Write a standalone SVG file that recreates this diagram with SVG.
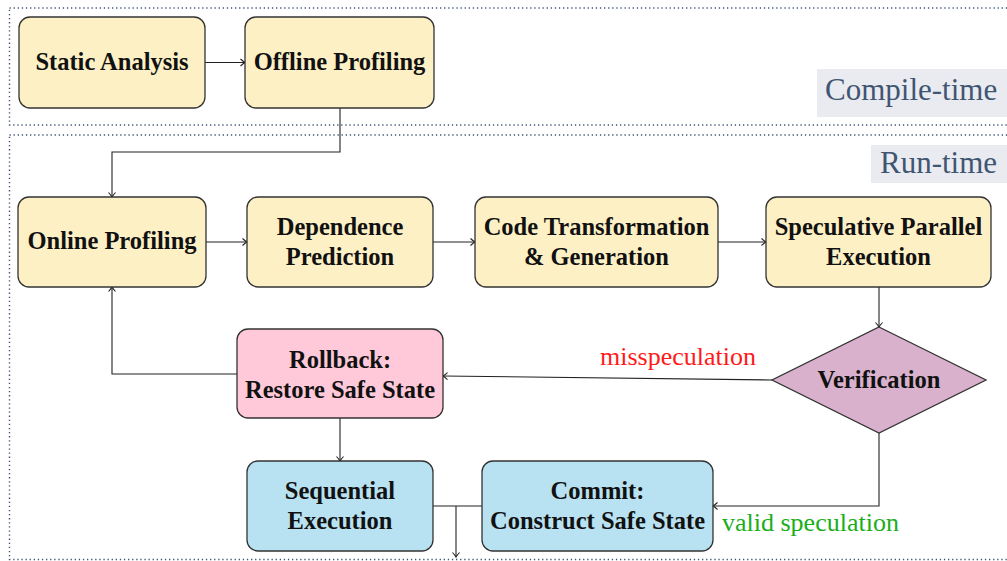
<svg xmlns="http://www.w3.org/2000/svg" width="1007" height="561" viewBox="0 0 1007 561">
<defs>
<marker id="arr" markerUnits="userSpaceOnUse" markerWidth="12" markerHeight="12" viewBox="-6 -6 12 12" refX="0" refY="0" orient="auto">
<path d="M-4.5,-3.5 Q-1.5,-0.8 0,0 Q-1.5,0.8 -4.5,3.5" fill="none" stroke="#222" stroke-width="1.1"/>
</marker>
<style>
.region{fill:none;stroke:#3f5573;stroke-width:1.4;stroke-dasharray:1.3 2.8}
.tagbg{fill:#e9ebf0}
.tag{font-family:"Liberation Serif",serif;font-size:31px;fill:#3f5572}
.box{stroke:#333;stroke-width:1.3}
.y{fill:#fdf0c5}
.p{fill:#ffc9d9}
.b{fill:#b8e2f2}
.d{fill:#d9b1cc}
.lbl{font-family:"Liberation Serif",serif;font-weight:bold;font-size:24.5px;fill:#111;text-anchor:middle}
.edge{fill:none;stroke:#222;stroke-width:1.1}
.arrow{marker-end:url(#arr)}
.elbl{font-family:"Liberation Serif",serif;font-size:26px}
</style>
</defs>

<g id="regions">
<rect class="region" x="9.5" y="8" width="1010" height="117"/>
<rect class="region" x="9.5" y="135" width="1010" height="424.5"/>
<rect class="tagbg" x="817" y="69" width="195" height="48"/>
<text class="tag" x="825" y="100">Compile-time</text>
<rect class="tagbg" x="871" y="145" width="140" height="38"/>
<text class="tag" x="880" y="173">Run-time</text>
</g>

<g id="connectors">
<path class="edge arrow" d="M205,62.5 H245"/>
<path class="edge arrow" d="M340,108 V152 H112 V197"/>
<path class="edge arrow" d="M206,242 H247"/>
<path class="edge arrow" d="M433,242 H475"/>
<path class="edge arrow" d="M718,242 H766"/>
<path class="edge arrow" d="M879,287 V327"/>
<path class="edge arrow" d="M772,380 L443,376"/>
<path class="edge arrow" d="M879,433 V506 H713"/>
<path class="edge arrow" d="M237,374 H112 V287"/>
<path class="edge arrow" d="M340,418 V461"/>
<path class="edge" d="M433,506 H482"/>
<path class="edge arrow" d="M456,506 V557"/>
<text class="elbl" x="600" y="365" fill="#ff1a1a">misspeculation</text>
<text class="elbl" x="722" y="531" fill="#1aae1a">valid speculation</text>
</g>

<g id="static-analysis">
<rect class="box y" x="19" y="17" width="186" height="91" rx="11"/>
<text class="lbl" x="112" y="70">Static Analysis</text>
</g>
<g id="offline-profiling">
<rect class="box y" x="245" y="17" width="189" height="91" rx="11"/>
<text class="lbl" x="339.5" y="70">Offline Profiling</text>
</g>
<g id="online-profiling">
<rect class="box y" x="18" y="197" width="188" height="90" rx="11"/>
<text class="lbl" x="112" y="249">Online Profiling</text>
</g>
<g id="dependence-prediction">
<rect class="box y" x="247" y="197" width="186" height="90" rx="11"/>
<text class="lbl" x="340" y="235">Dependence</text>
<text class="lbl" x="340" y="265">Prediction</text>
</g>
<g id="code-transformation">
<rect class="box y" x="475" y="197" width="243" height="90" rx="11"/>
<text class="lbl" x="596.5" y="235">Code Transformation</text>
<text class="lbl" x="596.5" y="265">&amp; Generation</text>
</g>
<g id="speculative-execution">
<rect class="box y" x="766" y="197" width="225" height="90" rx="11"/>
<text class="lbl" x="878.5" y="235">Speculative Parallel</text>
<text class="lbl" x="878.5" y="265">Execution</text>
</g>
<g id="verification">
<polygon class="box d" points="879,327 986,380 879,433 772,380"/>
<text class="lbl" x="879" y="388">Verification</text>
</g>
<g id="rollback">
<rect class="box p" x="237" y="329" width="206" height="89" rx="11"/>
<text class="lbl" x="340" y="368">Rollback:</text>
<text class="lbl" x="340" y="398">Restore Safe State</text>
</g>
<g id="sequential-execution">
<rect class="box b" x="247" y="461" width="186" height="90" rx="11"/>
<text class="lbl" x="340" y="499">Sequential</text>
<text class="lbl" x="340" y="529">Execution</text>
</g>
<g id="commit">
<rect class="box b" x="482" y="461" width="231" height="90" rx="11"/>
<text class="lbl" x="597.5" y="499">Commit:</text>
<text class="lbl" x="597.5" y="529">Construct Safe State</text>
</g>
</svg>
